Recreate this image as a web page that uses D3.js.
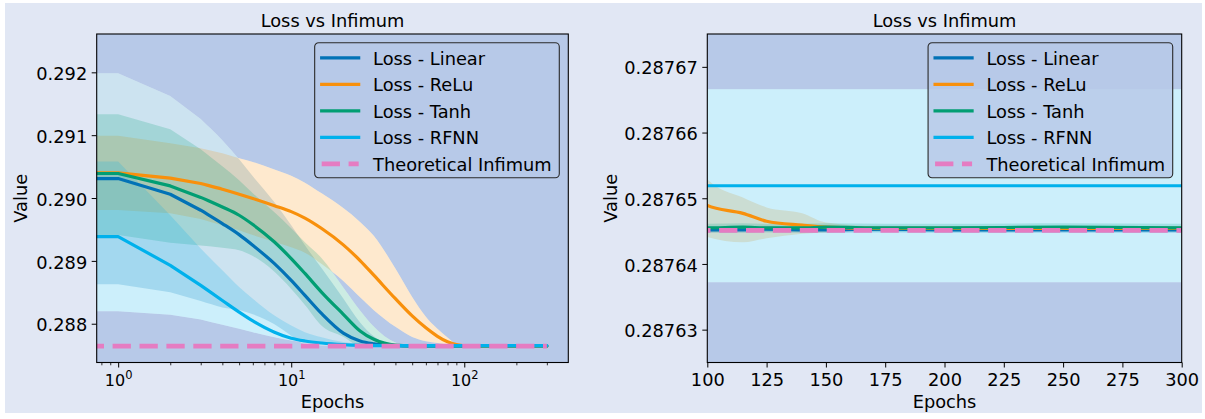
<!DOCTYPE html>
<html><head><meta charset="utf-8">
<script src="https://cdn.jsdelivr.net/npm/d3@7"></script>
<style>
html,body{margin:0;padding:0;background:#ffffff;}
svg{display:block;}
</style></head><body>
<svg id="chart" width="1205" height="419"></svg>
<script>
// ---------------- data ----------------
const epochs = [0,1,2,3,4,5,6,8,10,12,15,20,25,30,40,50,60,70,80,90,100,115,125,140,150,175,200,250,300];

const linearMean  = [0.29031,0.29031,0.29006,0.289806,0.289594,0.289418,0.289248,0.288956,0.28869,0.288451,0.288159,0.28785,0.287725,0.28768,0.287652,0.2876458,0.2876454,0.2876453,0.2876452,0.2876452,0.2876452,0.2876452,0.2876453,0.2876452,0.2876452,0.2876453,0.2876452,0.2876452,0.2876452];
const linearUpper = [0.291984,0.291984,0.291622,0.291256,0.290921,0.290618,0.290347,0.289933,0.289566,0.289248,0.288881,0.288403,0.288021,0.2878,0.28766,0.2876475,0.287646,0.2876458,0.2876457,0.2876457,0.2876457,0.2876457,0.2876458,0.2876457,0.2876457,0.2876458,0.2876457,0.2876457,0.2876457];
const linearLower = [0.28863,0.28863,0.2885,0.28836,0.28826,0.28822,0.28815,0.28799,0.28781,0.28768,0.287655,0.287648,0.287646,0.2876455,0.287645,0.2876448,0.2876447,0.2876447,0.2876447,0.2876447,0.2876447,0.2876447,0.2876448,0.2876447,0.2876447,0.2876448,0.2876447,0.2876447,0.2876447];

const reluMean  = [0.2904,0.2904,0.290316,0.290231,0.29014,0.290061,0.289992,0.289878,0.289784,0.289681,0.289515,0.289255,0.289005,0.288772,0.288398,0.288125,0.287935,0.2878,0.287712,0.287668,0.2876489,0.2876477,0.2876465,0.2876459,0.2876456,0.2876454,0.2876454,0.2876454,0.2876454];
const reluUpper = [0.29099,0.29099,0.290873,0.290794,0.290714,0.290634,0.290575,0.290455,0.290355,0.290245,0.290075,0.289841,0.28962,0.289401,0.288878,0.288427,0.288112,0.287919,0.287782,0.287678,0.2876529,0.2876501,0.2876486,0.2876477,0.2876463,0.2876457,0.2876457,0.2876457,0.2876457];
const reluLower = [0.28981,0.28981,0.289759,0.289668,0.289566,0.289488,0.28941,0.2893,0.289215,0.28913,0.28895,0.28868,0.28842,0.288215,0.28795,0.28779,0.287723,0.287694,0.28767,0.287654,0.2876441,0.2876433,0.2876439,0.2876446,0.2876448,0.2876451,0.2876451,0.2876451,0.2876451];

const tanhMean  = [0.29039,0.29039,0.290193,0.29001,0.289858,0.289726,0.289578,0.2893,0.289036,0.2888,0.2885,0.28815,0.287885,0.287752,0.287658,0.287647,0.2876456,0.2876455,0.2876455,0.2876455,0.2876455,0.2876456,0.2876455,0.2876455,0.2876456,0.2876455,0.2876455,0.2876456,0.2876455];
const tanhUpper = [0.291335,0.291335,0.291096,0.290777,0.290507,0.290284,0.290077,0.289774,0.289519,0.289296,0.289041,0.288578,0.288212,0.287957,0.287702,0.287648,0.2876462,0.2876461,0.2876461,0.2876461,0.2876461,0.2876462,0.2876461,0.2876461,0.2876462,0.2876461,0.2876461,0.2876462,0.2876461];
const tanhLower = [0.28941,0.28941,0.28929,0.289243,0.289209,0.289168,0.289079,0.288826,0.288553,0.288298,0.287967,0.287792,0.287646,0.2876452,0.2876449,0.2876449,0.2876449,0.2876449,0.2876449,0.2876449,0.2876449,0.287645,0.2876449,0.2876449,0.287645,0.2876449,0.2876449,0.287645,0.2876449];

const rfnnMean  = [0.289386,0.289386,0.288929,0.28861,0.28837,0.288185,0.288045,0.287865,0.287768,0.287725,0.287693,0.287668,0.287657,0.287653,0.2876519,0.2876519,0.2876519,0.2876519,0.2876519,0.2876519,0.2876519,0.2876519,0.2876519,0.2876519,0.2876519,0.2876519,0.2876519,0.2876519,0.2876519];
const rfnnUpper = [0.29058,0.29058,0.289726,0.289195,0.288849,0.288583,0.288398,0.288132,0.287973,0.287866,0.287786,0.28771,0.28768,0.287668,0.2876666,0.2876666,0.2876666,0.2876666,0.2876666,0.2876666,0.2876666,0.2876666,0.2876666,0.2876666,0.2876666,0.2876666,0.2876666,0.2876666,0.2876666];
const rfnnLower = [0.2882,0.2882,0.288143,0.288069,0.287984,0.28792,0.287866,0.287786,0.287734,0.287707,0.28768,0.28766,0.28765,0.28764,0.2876372,0.2876372,0.2876372,0.2876372,0.2876372,0.2876372,0.2876372,0.2876372,0.2876372,0.2876372,0.2876372,0.2876372,0.2876372,0.2876372,0.2876372];

const infimum = 0.2876451;

const seriesNames = ["Loss - Linear","Loss - ReLu","Loss - Tanh","Loss - RFNN"];
const infimumName = "Theoretical Infimum";
const chartTitle = "Loss vs Infimum";
const xLabel = "Epochs";
const yLabel = "Value";

const leftXTicks = [1,10,100];
const leftYTicks = [0.288,0.289,0.290,0.291,0.292];
const rightXTicks = [100,125,150,175,200,225,250,275,300];
const rightYTicks = [0.28763,0.28764,0.28765,0.28766,0.28767];

// ---------------- style ----------------
const FONT = '"DejaVu Sans", sans-serif';
const FS = 17.8;
const colors = ["#0272b6","#f8900c","#029e73","#00b1ec"];
const infColor = "#e57cc2";
const figBg = "#e1e7f4";
const axBg = "#b7c9e8";
const LINEAR_UNTIL = 3; // straight segments through the first epochs

const series = [
  {name: seriesNames[0], color: colors[0], mean: linearMean, lo: linearLower, hi: linearUpper},
  {name: seriesNames[1], color: colors[1], mean: reluMean, lo: reluLower, hi: reluUpper},
  {name: seriesNames[2], color: colors[2], mean: tanhMean, lo: tanhLower, hi: tanhUpper},
  {name: seriesNames[3], color: colors[3], mean: rfnnMean, lo: rfnnLower, hi: rfnnUpper}
].map(s => ({...s, rows: epochs.map((e,i) => ({e, m: s.mean[i], lo: s.lo[i], hi: s.hi[i]}))}));
const infRows = epochs.map(e => ({e, m: infimum}));

// monotone cubic segments (straight for the first few points)
function buildSegs(pts, linUntil) {
  const n = pts.length, h = [], s = [], t = new Array(n);
  for (let i = 0; i < n-1; i++) { h[i] = pts[i+1][0]-pts[i][0]; s[i] = h[i] ? (pts[i+1][1]-pts[i][1])/h[i] : 0; }
  for (let i = 0; i < n; i++) {
    if (i <= linUntil) t[i] = i < n-1 ? s[i] : s[i-1];
    else if (i === n-1) t[i] = s[i-1];
    else {
      const s0 = s[i-1], s1 = s[i];
      if (s0*s1 <= 0) t[i] = 0;
      else {
        const p = (s0*h[i] + s1*h[i-1])/(h[i-1]+h[i]);
        t[i] = (Math.sign(s0)+Math.sign(s1))*Math.min(Math.abs(s0), Math.abs(s1), 0.5*Math.abs(p));
      }
    }
  }
  const segs = [];
  for (let i = 0; i < n-1; i++) {
    if (i+1 <= linUntil) segs.push({lin: true});
    else segs.push({lin: false,
      c1: [pts[i][0]+h[i]/3, pts[i][1]+t[i]*h[i]/3],
      c2: [pts[i+1][0]-h[i]/3, pts[i+1][1]-t[i+1]*h[i]/3]});
  }
  return segs;
}
function forward(ctx, pts, segs, move) {
  if (move) ctx.moveTo(pts[0][0], pts[0][1]); else ctx.lineTo(pts[0][0], pts[0][1]);
  segs.forEach((sg, i) => {
    const p = pts[i+1];
    if (sg.lin) ctx.lineTo(p[0], p[1]); else ctx.bezierCurveTo(sg.c1[0], sg.c1[1], sg.c2[0], sg.c2[1], p[0], p[1]);
  });
}
function backward(ctx, pts, segs) {
  const n = pts.length;
  ctx.lineTo(pts[n-1][0], pts[n-1][1]);
  for (let i = n-2; i >= 0; i--) {
    const sg = segs[i], p = pts[i];
    if (sg.lin) ctx.lineTo(p[0], p[1]); else ctx.bezierCurveTo(sg.c2[0], sg.c2[1], sg.c1[0], sg.c1[1], p[0], p[1]);
  }
}

const svg = d3.select("#chart");
svg.append("rect").attr("x",5).attr("y",3).attr("width",1197).attr("height",410).attr("fill",figBg);
const defs = svg.append("defs");

function panel(cfg) {
  const {L, R, T, B, x, y, id} = cfg;
  x.range([L, R]); y.range([B, T]);
  const xv = cfg.log ? (e => x(Math.max(e, x.domain()[0]))) : (e => x(e));

  const linePath = (rows, key) => {
    const pts = rows.map(d => [xv(d.e), y(d[key])]);
    const ctx = d3.path(); forward(ctx, pts, buildSegs(pts, LINEAR_UNTIL), true); return ctx.toString();
  };
  const areaPath = rows => {
    const top = rows.map(d => [xv(d.e), y(d.hi)]), bot = rows.map(d => [xv(d.e), y(d.lo)]);
    const ctx = d3.path();
    forward(ctx, top, buildSegs(top, LINEAR_UNTIL), true);
    backward(ctx, bot, buildSegs(bot, LINEAR_UNTIL));
    ctx.closePath(); return ctx.toString();
  };

  defs.append("clipPath").attr("id", "clip"+id)
    .append("rect").attr("x",L).attr("y",T).attr("width",R-L).attr("height",B-T);

  const plot = svg.append("g").attr("clip-path", `url(#clip${id})`);
  plot.append("rect").attr("x",L).attr("y",T).attr("width",R-L).attr("height",B-T).attr("fill",axBg);

  // bands: composited over white
  series.forEach(s => plot.append("path").attr("d", areaPath(s.rows)).attr("fill","#ffffff"));
  series.forEach(s => plot.append("path").attr("d", areaPath(s.rows)).attr("fill", s.color).attr("fill-opacity",0.2));

  series.forEach(s => plot.append("path").attr("d", linePath(s.rows, "m")).attr("fill","none")
    .attr("stroke", s.color).attr("stroke-width",3.2).attr("stroke-linejoin","round").attr("stroke-linecap","round"));
  plot.append("path").attr("d", d3.line().x(d => xv(d.e)).y(d => y(d.m))(infRows))
    .attr("fill","none").attr("stroke",infColor).attr("stroke-width",4.8)
    .attr("stroke-dasharray","18.3,8.6").attr("stroke-dashoffset", cfg.dashOffset);

  // axes
  const ya = svg.append("g").attr("transform",`translate(${L},0)`)
    .call(d3.axisLeft(y).tickValues(cfg.yTicks).tickFormat(cfg.yFmt).tickSize(5).tickPadding(4.5).tickSizeOuter(0));
  ya.select(".domain").remove();
  ya.attr("font-size",FS).attr("font-family",FONT);
  ya.selectAll("text").attr("fill","#000").attr("dy","0.4em");
  ya.selectAll("line").attr("stroke","#000").attr("stroke-width",1);

  const xa = svg.append("g").attr("transform",`translate(0,${B})`)
    .call(d3.axisBottom(x).tickValues(cfg.xTicks).tickFormat(cfg.xFmt).tickSize(5).tickPadding(5.5).tickSizeOuter(0));
  xa.select(".domain").remove();
  xa.attr("font-size",FS).attr("font-family",FONT);
  xa.selectAll("text").attr("fill","#000");
  xa.selectAll("line").attr("stroke","#000").attr("stroke-width",1);

  if (cfg.log) {
    xa.selectAll(".tick text").each(function(d) {
      const t = d3.select(this);
      t.text(null);
      t.append("tspan").attr("font-size",16).text("10");
      t.append("tspan").attr("font-size",11.5).attr("dy",-6.7).text(Math.round(Math.log10(d)));
    });
    const minor = x.ticks().filter(v => Math.abs(Math.log10(v) - Math.round(Math.log10(v))) > 1e-9);
    const mi = svg.append("g").attr("transform",`translate(0,${B})`)
      .call(d3.axisBottom(x).tickValues(minor).tickFormat("").tickSize(2.8).tickSizeOuter(0));
    mi.select(".domain").remove();
    mi.selectAll("line").attr("stroke","#000").attr("stroke-width",0.8);
  }

  // spines
  svg.append("rect").attr("x",L).attr("y",T).attr("width",R-L).attr("height",B-T)
    .attr("fill","none").attr("stroke","#000").attr("stroke-width",1.1);

  // title & labels
  const cx = (L+R)/2;
  svg.append("text").attr("x",cx).attr("y",26.5).attr("text-anchor","middle")
    .attr("font-family",FONT).attr("font-size",FS).attr("fill","#000").text(chartTitle);
  svg.append("text").attr("x",cx).attr("y",408).attr("text-anchor","middle")
    .attr("font-family",FONT).attr("font-size",FS).attr("fill","#000").text(xLabel);
  svg.append("text").attr("transform",`translate(${cfg.yLabelX},${(T+B)/2}) rotate(-90)`)
    .attr("text-anchor","middle").attr("font-family",FONT).attr("font-size",FS).attr("fill","#000").text(yLabel);

  // legend
  const lg = svg.append("g");
  const entries = series.map(s => ({name: s.name, color: s.color, dash: false}))
    .concat([{name: infimumName, color: infColor, dash: true}]);
  const box = lg.append("rect");
  const texts = [];
  const rowH = 26.5, row0 = 15;
  entries.forEach((en, i) => {
    const ry = row0 + i*rowH;
    lg.append("line").attr("x1", 7).attr("x2", 44).attr("y1", ry).attr("y2", ry)
      .attr("stroke", en.color).attr("stroke-width", en.dash ? 4.8 : 3.2)
      .attr("stroke-linecap", en.dash ? "butt" : "square")
      .attr("stroke-dasharray", en.dash ? "18.3,8.6" : null);
    texts.push(lg.append("text").attr("x",58.4).attr("y",ry+6.8).attr("font-family",FONT)
      .attr("font-size",FS).attr("fill","#000").text(en.name));
  });
  const maxW = d3.max(texts, t => t.node().getComputedTextLength());
  const bw = 58.4 + maxW + 7.6, bh = row0*2 + rowH*4 - 1;
  box.attr("x",0).attr("y",0).attr("width",bw).attr("height",bh).attr("rx",4).attr("ry",4)
    .attr("fill",axBg).attr("fill-opacity",0.85).attr("stroke","#2a2a2a").attr("stroke-width",1.1);
  lg.attr("transform",`translate(${R - 9 - bw},${T + 8.8})`);
}

panel({
  id: "L", L: 96.7, R: 568.3, T: 34, B: 362.5, log: true,
  x: d3.scaleLog().domain([0.7516, 399.1]),
  y: d3.scaleLinear().domain([0.287383, 0.29261]),
  xTicks: leftXTicks, xFmt: d => d, yTicks: leftYTicks, yFmt: d3.format(".3f"),
  dashOffset: 11, yLabelX: 26.7
});
panel({
  id: "R", L: 707.3, R: 1181.7, T: 34, B: 362.5, log: false,
  x: d3.scaleLinear().domain([100, 300]),
  y: d3.scaleLinear().domain([0.287625, 0.287675]),
  xTicks: rightXTicks, xFmt: d3.format("d"), yTicks: rightYTicks, yFmt: d3.format(".5f"),
  dashOffset: 20, yLabelX: 616.7
});
</script>
</body></html>
